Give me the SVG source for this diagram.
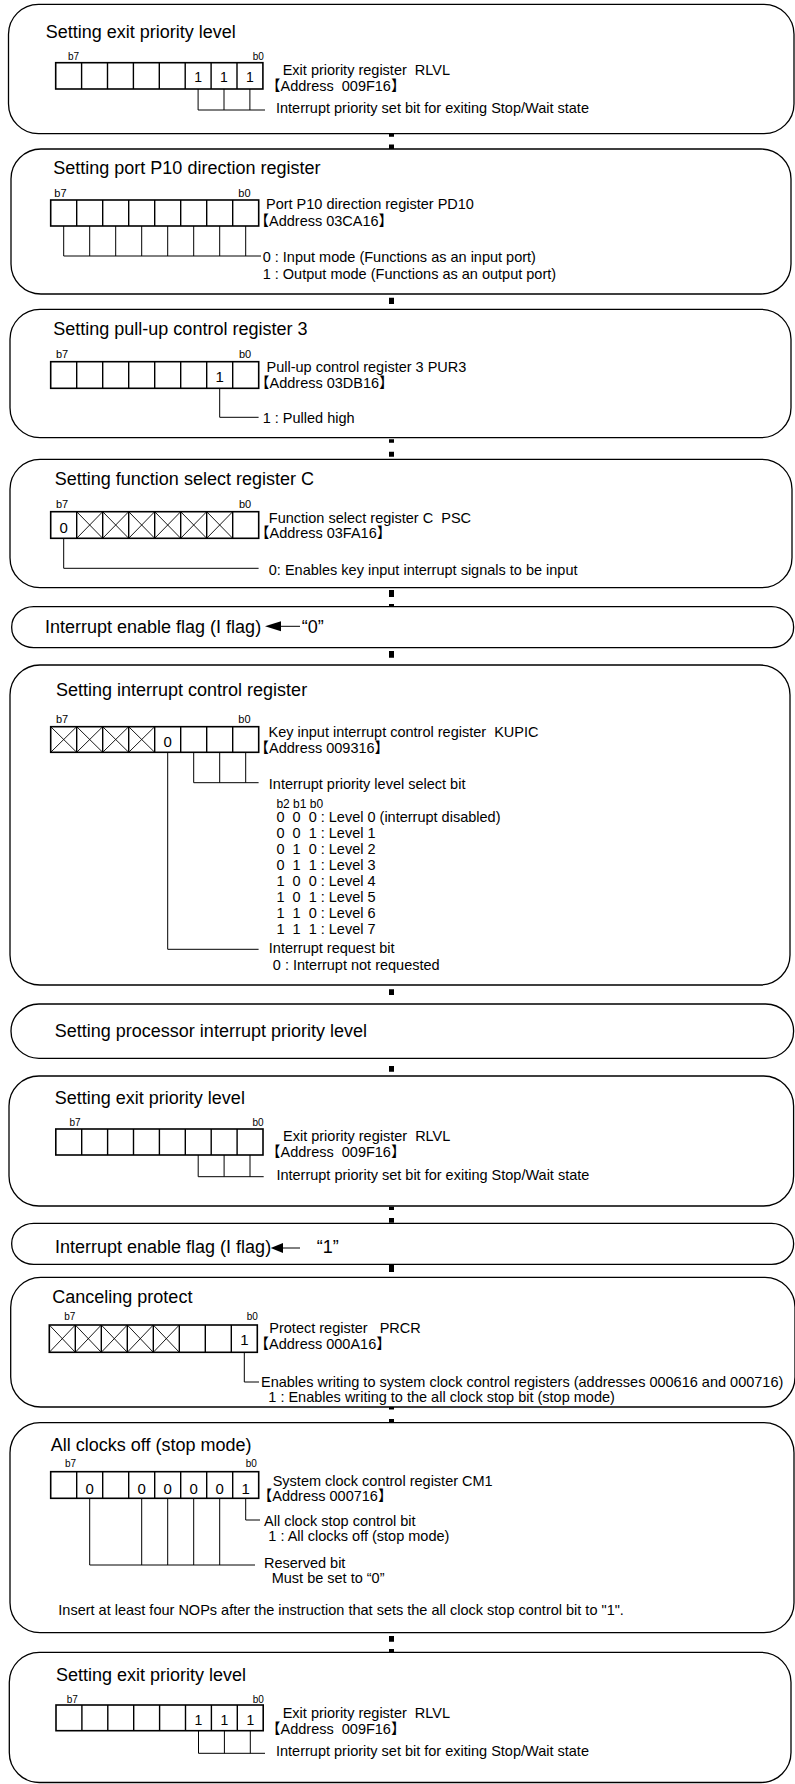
<svg xmlns="http://www.w3.org/2000/svg" width="795" height="1784" viewBox="0 0 795 1784">
<style>
text{font-family:"Liberation Sans","Noto Sans CJK JP",Arial,sans-serif;fill:#000;white-space:pre}
.t{font-size:18px}
.s{font-size:14.5px}
.sm{font-size:12px}
.bl{font-size:11px}
.bs{font-size:10px}
.d{font-size:15px;text-anchor:middle}
.d13{font-size:14px;text-anchor:middle}
.box{fill:#fff;stroke:#000;stroke-width:1.3}
.reg{fill:#fff;stroke:#000;stroke-width:1.6}
.sep{fill:none;stroke:#000;stroke-width:1.4}
.x{fill:none;stroke:#000;stroke-width:0.9}
.lead{fill:none;stroke:#000;stroke-width:1}
.con{fill:none;stroke:#000;stroke-width:5}
</style>
<rect width="795" height="1784" fill="#fff"/>

<g id="connectors">
<path class="con" d="M391.5 133.7V136.7M391.5 144.5V149M391.5 297.7V304M391.5 439.3V442.7M391.5 451.7V456.7M391.5 590V597M391.5 604V606.7M391.5 651V657.7M391.5 989.3V995M391.5 1066V1071.7M391.5 1206.7V1210M391.5 1218V1222.7M391.5 1265V1272M391.5 1407V1409.5M391.5 1419V1422M391.5 1636V1641.7M391.5 1649V1652"/>
</g>

<g id="n1">
<rect class="box" x="8.5" y="4.3" width="785.5" height="129.4" rx="30"/>
<text class="t" x="45.7" y="38.3">Setting exit priority level</text>
<text class="bs" x="68" y="60">b7</text><text class="bs" x="252.7" y="60">b0</text>
<rect class="reg" x="55.7" y="62.7" width="207.2" height="26.3"/>
<path class="sep" d="M81.6 62.7V89M107.5 62.7V89M133.4 62.7V89M159.3 62.7V89M185.2 62.7V89M211.1 62.7V89M237 62.7V89"/>
<text class="d13" x="198.1" y="81.7">1</text><text class="d13" x="224" y="81.7">1</text><text class="d13" x="249.9" y="81.7">1</text>
<path class="lead" d="M198.1 89V110H265M224 89V110M249.9 89V110"/>
<text class="s" x="282.7" y="75.3">Exit priority register  RLVL</text>
<text class="s" x="266" y="90.7">【Address  009F16】</text>
<text class="s" x="276" y="113.3">Interrupt priority set bit for exiting Stop/Wait state</text>
</g>

<g id="n2">
<rect class="box" x="11" y="149" width="780" height="145" rx="30"/>
<text class="t" x="53.3" y="174">Setting port P10 direction register</text>
<text class="bl" x="54.3" y="196.7">b7</text><text class="bl" x="238.3" y="196.7">b0</text>
<rect class="reg" x="50.7" y="200" width="208" height="26"/>
<path class="sep" d="M76.7 200V226M102.7 200V226M128.7 200V226M154.7 200V226M180.7 200V226M206.7 200V226M232.7 200V226"/>
<path class="lead" d="M63.7 226V256H261M89.7 226V256M115.7 226V256M141.7 226V256M167.7 226V256M193.7 226V256M219.7 226V256M245.7 226V256"/>
<text class="s" x="266" y="209.3">Port P10 direction register PD10</text>
<text class="s" x="254.5" y="225.7">【Address 03CA16】</text>
<text class="s" x="262.7" y="262.3">0 : Input mode (Functions as an input port)</text>
<text class="s" x="262.7" y="279">1 : Output mode (Functions as an output port)</text>
</g>

<g id="n3">
<rect class="box" x="10" y="309.3" width="781" height="128.4" rx="30"/>
<text class="t" x="53.3" y="335">Setting pull-up control register 3</text>
<text class="bl" x="56" y="358.3">b7</text><text class="bl" x="239" y="358.3">b0</text>
<rect class="reg" x="50.7" y="361.7" width="208" height="26.6"/>
<path class="sep" d="M76.7 361.7V388.3M102.7 361.7V388.3M128.7 361.7V388.3M154.7 361.7V388.3M180.7 361.7V388.3M206.7 361.7V388.3M232.7 361.7V388.3"/>
<text class="d" x="219.7" y="381.7">1</text>
<path class="lead" d="M219.7 388.3V417.3H258.6"/>
<text class="s" x="266.5" y="371.7">Pull-up control register 3 PUR3</text>
<text class="s" x="255" y="388.3">【Address 03DB16】</text>
<text class="s" x="262.7" y="422.7">1 : Pulled high</text>
</g>

<g id="n4">
<rect class="box" x="10" y="459.3" width="782" height="128.4" rx="30"/>
<text class="t" x="54.8" y="485">Setting function select register C</text>
<text class="bl" x="56" y="508.3">b7</text><text class="bl" x="239" y="508.3">b0</text>
<rect class="reg" x="50.7" y="511.7" width="208" height="26.6"/>
<path class="sep" d="M76.7 511.7V538.3M102.7 511.7V538.3M128.7 511.7V538.3M154.7 511.7V538.3M180.7 511.7V538.3M206.7 511.7V538.3M232.7 511.7V538.3"/>
<path class="x" d="M76.7 511.7L102.7 538.3M76.7 538.3L102.7 511.7M102.7 511.7L128.7 538.3M102.7 538.3L128.7 511.7M128.7 511.7L154.7 538.3M128.7 538.3L154.7 511.7M154.7 511.7L180.7 538.3M154.7 538.3L180.7 511.7M180.7 511.7L206.7 538.3M180.7 538.3L206.7 511.7M206.7 511.7L232.7 538.3M206.7 538.3L232.7 511.7"/>
<text class="d" x="63.7" y="533.3">0</text>
<path class="lead" d="M63.7 538.3V568.3H258.6"/>
<text class="s" x="268.8" y="522.7">Function select register C  PSC</text>
<text class="s" x="255" y="538.3">【Address 03FA16】</text>
<text class="s" x="268.8" y="575">0: Enables key input interrupt signals to be input</text>
</g>

<g id="n5">
<rect class="box" x="11.7" y="606.7" width="781.9" height="41" rx="22" ry="20"/>
<text class="t" x="45" y="632.7">Interrupt enable flag (I flag)</text>
<polygon points="265,626.3 281,621.3 281,631.3" fill="#000"/>
<path class="lead" stroke-width="1.3" d="M280 626.3H300"/>
<text class="t" x="301.7" y="632.7">“0”</text>
</g>

<g id="n6">
<rect class="box" x="10" y="665" width="780" height="320" rx="30"/>
<text class="t" x="56" y="695.7">Setting interrupt control register</text>
<text class="bl" x="56" y="723.3">b7</text><text class="bl" x="238.3" y="723.3">b0</text>
<rect class="reg" x="50.7" y="726.7" width="208" height="25.6"/>
<path class="sep" d="M76.7 726.7V752.3M102.7 726.7V752.3M128.7 726.7V752.3M154.7 726.7V752.3M180.7 726.7V752.3M206.7 726.7V752.3M232.7 726.7V752.3"/>
<path class="x" d="M50.7 726.7L76.7 752.3M50.7 752.3L76.7 726.7M76.7 726.7L102.7 752.3M76.7 752.3L102.7 726.7M102.7 726.7L128.7 752.3M102.7 752.3L128.7 726.7M128.7 726.7L154.7 752.3M128.7 752.3L154.7 726.7"/>
<text class="d" x="167.7" y="746.7">0</text>
<path class="lead" d="M193.7 752.3V782.7H258.6M219.7 752.3V782.7M245.7 752.3V782.7M167.7 752.3V949.3H258.6"/>
<text class="s" x="268.5" y="736.5">Key input interrupt control register  KUPIC</text>
<text class="s" x="254.5" y="752.5">【Address 009316】</text>
<text class="s" x="268.8" y="789.3">Interrupt priority level select bit</text>
<text class="sm" x="276.4" y="808">b2 b1 b0</text>
<text class="s" x="276.4" y="822.3">0  0  0 : Level 0 (interrupt disabled)</text>
<text class="s" x="276.4" y="838.3">0  0  1 : Level 1</text>
<text class="s" x="276.4" y="854.3">0  1  0 : Level 2</text>
<text class="s" x="276.4" y="870">0  1  1 : Level 3</text>
<text class="s" x="276.4" y="886">1  0  0 : Level 4</text>
<text class="s" x="276.4" y="902">1  0  1 : Level 5</text>
<text class="s" x="276.4" y="918">1  1  0 : Level 6</text>
<text class="s" x="276.4" y="934">1  1  1 : Level 7</text>
<text class="s" x="268.8" y="953.3">Interrupt request bit</text>
<text class="s" x="272.8" y="970">0 : Interrupt not requested</text>
</g>

<g id="n7">
<rect class="box" x="11" y="1004" width="782.6" height="54.3" rx="28" ry="27"/>
<text class="t" x="54.8" y="1037">Setting processor interrupt priority level</text>
</g>

<g id="n8">
<rect class="box" x="9" y="1076" width="784.6" height="130" rx="30"/>
<text class="t" x="54.8" y="1104">Setting exit priority level</text>
<text class="bs" x="69.5" y="1126">b7</text><text class="bs" x="252.5" y="1126">b0</text>
<rect class="reg" x="55.8" y="1129" width="207.2" height="26"/>
<path class="sep" d="M81.7 1129V1155M107.6 1129V1155M133.5 1129V1155M159.4 1129V1155M185.3 1129V1155M211.2 1129V1155M237.1 1129V1155"/>
<path class="lead" d="M198.2 1155V1176.7H263.7M224.1 1155V1176.7M250 1155V1176.7"/>
<text class="s" x="283" y="1141.3">Exit priority register  RLVL</text>
<text class="s" x="266" y="1157">【Address  009F16】</text>
<text class="s" x="276.4" y="1180">Interrupt priority set bit for exiting Stop/Wait state</text>
</g>

<g id="n9">
<rect class="box" x="11.7" y="1223.3" width="781.9" height="41" rx="22" ry="20"/>
<text class="t" x="55" y="1253.3">Interrupt enable flag (I flag)</text>
<polygon points="270.7,1248 283,1243 283,1253" fill="#000"/>
<path class="lead" stroke-width="1.3" d="M281.7 1248H300"/>
<text class="t" x="316.7" y="1253.3">“1”</text>
</g>

<g id="n10">
<rect class="box" x="10.7" y="1277.3" width="784.3" height="129.7" rx="30"/>
<text class="t" x="52.3" y="1302.7">Canceling protect</text>
<text class="bs" x="64.3" y="1320">b7</text><text class="bs" x="246.7" y="1320">b0</text>
<rect class="reg" x="49.3" y="1325" width="208" height="27.3"/>
<path class="sep" d="M75.3 1325V1352.3M101.3 1325V1352.3M127.3 1325V1352.3M153.3 1325V1352.3M179.3 1325V1352.3M205.3 1325V1352.3M231.3 1325V1352.3"/>
<path class="x" d="M49.3 1325L75.3 1352.3M49.3 1352.3L75.3 1325M75.3 1325L101.3 1352.3M75.3 1352.3L101.3 1325M101.3 1325L127.3 1352.3M101.3 1352.3L127.3 1325M127.3 1325L153.3 1352.3M127.3 1352.3L153.3 1325M153.3 1325L179.3 1352.3M153.3 1352.3L179.3 1325"/>
<text class="d" x="244.3" y="1345">1</text>
<path class="lead" d="M244.3 1352.3V1382H259"/>
<text class="s" x="269.3" y="1332.7">Protect register   PRCR</text>
<text class="s" x="254.5" y="1349.3">【Address 000A16】</text>
<text class="s" x="261" y="1386.5">Enables writing to system clock control registers (addresses 000616 and 000716)</text>
<text class="s" x="268.3" y="1401.5">1 : Enables writing to the all clock stop bit (stop mode)</text>
</g>

<g id="n11">
<rect class="box" x="10" y="1422.7" width="784" height="210" rx="30"/>
<text class="t" x="50.7" y="1451">All clocks off (stop mode)</text>
<text class="bs" x="65" y="1466.7">b7</text><text class="bs" x="245.7" y="1466.7">b0</text>
<rect class="reg" x="50.7" y="1471.7" width="208" height="26.6"/>
<path class="sep" d="M76.7 1471.7V1498.3M102.7 1471.7V1498.3M128.7 1471.7V1498.3M154.7 1471.7V1498.3M180.7 1471.7V1498.3M206.7 1471.7V1498.3M232.7 1471.7V1498.3"/>
<text class="d" x="89.7" y="1494">0</text><text class="d" x="141.7" y="1494">0</text><text class="d" x="167.7" y="1494">0</text><text class="d" x="193.7" y="1494">0</text><text class="d" x="219.7" y="1494">0</text><text class="d" x="245.7" y="1494">1</text>
<path class="lead" d="M245.7 1498.3V1520H260M89.7 1498.3V1565H255M141.7 1498.3V1565M167.7 1498.3V1565M193.7 1498.3V1565M219.7 1498.3V1565"/>
<text class="s" x="272.7" y="1485.5">System clock control register CM1</text>
<text class="s" x="257.8" y="1501">【Address 000716】</text>
<text class="s" x="264" y="1525.5">All clock stop control bit</text>
<text class="s" x="268.3" y="1541">1 : All clocks off (stop mode)</text>
<text class="s" x="264" y="1568.3">Reserved bit</text>
<text class="s" x="271.7" y="1583.3">Must be set to “0”</text>
<text class="s" x="58.3" y="1615">Insert at least four NOPs after the instruction that sets the all clock stop control bit to "1".</text>
</g>

<g id="n12">
<rect class="box" x="9.3" y="1652.3" width="781.7" height="130.2" rx="30"/>
<text class="t" x="56" y="1680.7">Setting exit priority level</text>
<text class="bs" x="66.7" y="1702.7">b7</text><text class="bs" x="252.7" y="1702.7">b0</text>
<rect class="reg" x="56" y="1705" width="207.2" height="25.7"/>
<path class="sep" d="M81.9 1705V1730.7M107.8 1705V1730.7M133.7 1705V1730.7M159.6 1705V1730.7M185.5 1705V1730.7M211.4 1705V1730.7M237.3 1705V1730.7"/>
<text class="d13" x="198.5" y="1725">1</text><text class="d13" x="224.4" y="1725">1</text><text class="d13" x="250.3" y="1725">1</text>
<path class="lead" d="M198.5 1730.7V1753.3H265M224.4 1730.7V1753.3M250.3 1730.7V1753.3"/>
<text class="s" x="282.7" y="1718">Exit priority register  RLVL</text>
<text class="s" x="266" y="1733.5">【Address  009F16】</text>
<text class="s" x="276" y="1755.5">Interrupt priority set bit for exiting Stop/Wait state</text>
</g>
</svg>
